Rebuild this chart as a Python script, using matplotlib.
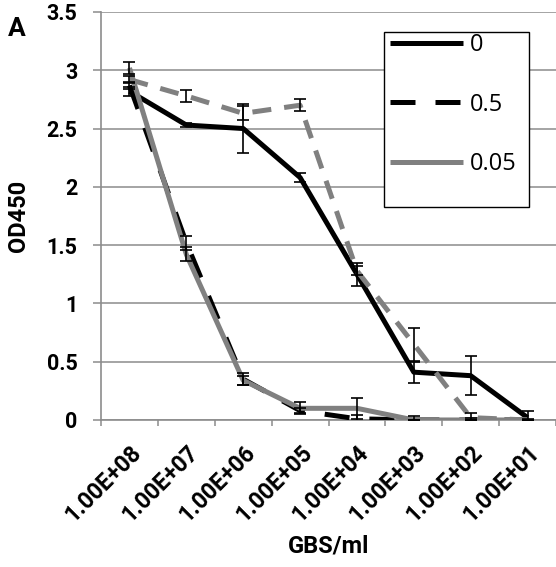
import numpy as np
import matplotlib
matplotlib.use('Agg')
import matplotlib.pyplot as plt
from matplotlib.patches import Rectangle

# GBS dilution series (x categories)
dilutions = ['1.00E+08', '1.00E+07', '1.00E+06', '1.00E+05',
             '1.00E+04', '1.00E+03', '1.00E+02', '1.00E+01']

# OD450 readings and error bars for each series
od_0 = [2.82, 2.53, 2.50, 2.08, 1.25, 0.41, 0.38, 0.02]
err_0 = [0.04, 0.02, 0.21, 0.04, 0.10, 0.09, 0.17, 0.06]

od_05 = [2.87, 1.52, 0.35, 0.08, 0.01, 0.00, 0.00, 0.00]
err_05 = [0.03, 0.06, 0.05, 0.02, 0.03, 0.03, 0.02, 0.01]

od_005 = [3.02, 1.42, 0.34, 0.10, 0.10, 0.00, 0.00, 0.00]
err_005 = [0.05, 0.06, 0.04, 0.05, 0.09, 0.00, 0.00, 0.00]

od_extra = [2.92, 2.78, 2.63, 2.70, 1.28, 0.65, 0.02, 0.00]
err_extra = [0.03, 0.05, 0.06, 0.05, 0.04, 0.14, 0.04, 0.00]

GRAY = '#808080'
GRID = '#8c8c8c'
BOLD = dict(family='Roboto', fontweight='bold')

fig = plt.figure(figsize=(5.56, 5.67), dpi=100)
ax = fig.add_axes([0.1817, 0.2593, 0.8183, 0.7196])

x = np.arange(len(dilutions))
lw = 3.6

series = [
    (od_0, err_0, dict(color='black', ls='-'), '0'),
    (od_05, err_05, dict(color='black', dashes=(5.0, 4.0)), '0.5'),
    (od_005, err_005, dict(color=GRAY, ls='-'), '0.05'),
    (od_extra, err_extra, dict(color=GRAY, dashes=(3.8, 2.6)), '_nolegend_'),
]
handles = []
for i, (y, e, style, lab) in enumerate(series):
    line, = ax.plot(x, y, lw=lw, label=lab, zorder=3 + i,
                    solid_capstyle='butt', dash_capstyle='butt', **style)
    ax.errorbar(x, y, yerr=e, fmt='none', ecolor='black', elinewidth=1.2,
                capsize=4.3, capthick=1.2, zorder=8)
    if not lab.startswith('_'):
        handles.append(line)

ax.set_xlim(-0.5, len(dilutions) - 0.5)
ax.set_ylim(0, 3.5)
ax.set_yticks(np.arange(0, 3.51, 0.5))
ax.set_yticklabels(['0', '0.5', '1', '1.5', '2', '2.5', '3', '3.5'],
                   fontsize=15.5, **BOLD)
ax.yaxis.grid(True, color=GRID, lw=1.1)
ax.set_axisbelow(True)

# labels at category centres, tick marks on the category boundaries
ax.set_xticks(x)
ax.set_xticklabels(dilutions, rotation=45, ha='right', va='top',
                   rotation_mode='anchor', fontsize=16.5, **BOLD)
ax.set_xticks(np.arange(-0.5, len(dilutions), 1), minor=True)
ax.tick_params(axis='x', which='major', length=0, pad=15)
ax.tick_params(axis='x', which='minor', length=4, width=1.1, color=GRID,
               direction='out')
ax.tick_params(axis='y', length=6, width=1.1, color=GRID, pad=11)

for side in ['top', 'right']:
    ax.spines[side].set_visible(False)
for side in ['left', 'bottom']:
    ax.spines[side].set_color(GRID)
    ax.spines[side].set_linewidth(1.2)

ax.set_xlabel('GBS/ml', fontsize=17, **BOLD)
ax.xaxis.set_label_coords(0.5, -0.309)
ax.xaxis.label.set_va('center')
ax.set_ylabel('OD450', fontsize=17, **BOLD)
ax.yaxis.set_label_coords(-0.182, 0.5)
ax.yaxis.label.set_va('center')

# legend box
box = Rectangle((0.621, 0.522), 0.320, 0.429, transform=ax.transAxes,
                facecolor='white', edgecolor='black', lw=1.0, zorder=20)
ax.add_patch(box)
leg = ax.legend(handles=handles, loc='upper left',
                bbox_to_anchor=(0.635, 0.948), frameon=False,
                prop=dict(family='Open Sans', size=17),
                handlelength=3.1, handletextpad=0.3, labelspacing=1.5,
                borderpad=0.0, borderaxespad=0.0)
leg.set_zorder(21)

fig.text(0.014, 1 - 36 / 567, 'A', fontsize=19, **BOLD)

fig.savefig('out.png', dpi=100)
